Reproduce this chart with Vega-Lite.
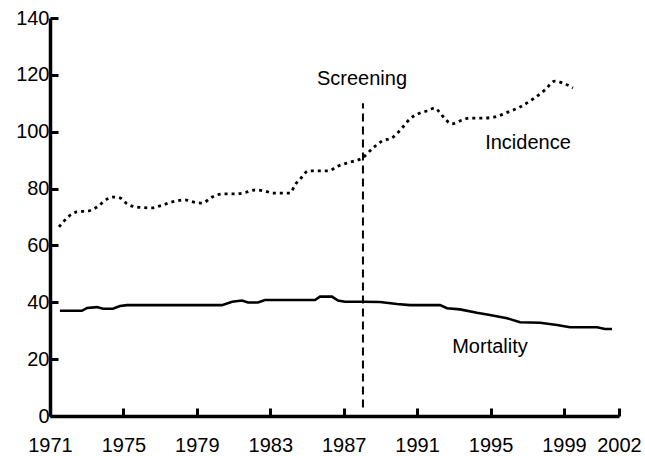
{
  "$schema": "https://vega.github.io/schema/vega-lite/v6.json",
  "width": 569,
  "height": 398,
  "autosize": {"type": "none"},
  "padding": {"left": 50, "top": 18, "right": 26, "bottom": 40},
  "background": "white",
  "config": {
    "view": {"stroke": null},
    "font": "Liberation Sans",
    "axis": {
      "grid": false,
      "title": null,
      "domainColor": "black",
      "domainWidth": 3.5,
      "tickColor": "black",
      "tickWidth": 3,
      "tickSize": -8,
      "labelColor": "black",
      "labelFontSize": 20,
      "labelFont": "Liberation Sans",
      "labelFlush": false,
      "labelOverlap": false
    },
    "axisX": {"labelPadding": 27},
    "axisY": {"labelPadding": 9}
  },
  "datasets": {
    "incidence": [
      {"year": 1971.49, "value": 66.5},
      {"year": 1972.47, "value": 71.8},
      {"year": 1973.07, "value": 72.1},
      {"year": 1973.56, "value": 73.5},
      {"year": 1974.11, "value": 76.3},
      {"year": 1974.43, "value": 77.0},
      {"year": 1974.81, "value": 76.7},
      {"year": 1975.2, "value": 74.6},
      {"year": 1975.74, "value": 73.5},
      {"year": 1976.56, "value": 73.2},
      {"year": 1976.99, "value": 73.9},
      {"year": 1977.65, "value": 75.3},
      {"year": 1978.35, "value": 76.0},
      {"year": 1978.79, "value": 75.3},
      {"year": 1979.28, "value": 74.9},
      {"year": 1979.83, "value": 77.0},
      {"year": 1980.37, "value": 78.1},
      {"year": 1980.97, "value": 78.1},
      {"year": 1981.51, "value": 78.4},
      {"year": 1982.17, "value": 79.5},
      {"year": 1982.71, "value": 79.1},
      {"year": 1983.15, "value": 78.4},
      {"year": 1984.08, "value": 78.4},
      {"year": 1984.35, "value": 81.3},
      {"year": 1984.73, "value": 84.1},
      {"year": 1985.06, "value": 86.2},
      {"year": 1986.15, "value": 86.2},
      {"year": 1986.69, "value": 87.9},
      {"year": 1987.34, "value": 89.3},
      {"year": 1988.0, "value": 90.7},
      {"year": 1988.6, "value": 94.3},
      {"year": 1989.09, "value": 96.7},
      {"year": 1989.69, "value": 98.1},
      {"year": 1990.18, "value": 101.3},
      {"year": 1990.61, "value": 104.5},
      {"year": 1991.16, "value": 106.6},
      {"year": 1991.54, "value": 107.3},
      {"year": 1991.97, "value": 108.3},
      {"year": 1992.25, "value": 106.6},
      {"year": 1992.52, "value": 104.5},
      {"year": 1992.9, "value": 102.8},
      {"year": 1993.45, "value": 104.1},
      {"year": 1993.88, "value": 104.8},
      {"year": 1994.59, "value": 104.8},
      {"year": 1995.24, "value": 105.2},
      {"year": 1995.95, "value": 106.9},
      {"year": 1996.61, "value": 108.7},
      {"year": 1997.31, "value": 111.5},
      {"year": 1997.97, "value": 114.7},
      {"year": 1998.51, "value": 117.8},
      {"year": 1998.95, "value": 117.1},
      {"year": 1999.49, "value": 115.4}
    ],
    "mortality": [
      {"year": 1971.54, "value": 37.0},
      {"year": 1972.74, "value": 37.0},
      {"year": 1973.02, "value": 38.0},
      {"year": 1973.56, "value": 38.3},
      {"year": 1973.89, "value": 37.7},
      {"year": 1974.43, "value": 37.7},
      {"year": 1974.81, "value": 38.7},
      {"year": 1975.2, "value": 39.0},
      {"year": 1980.37, "value": 39.0},
      {"year": 1980.92, "value": 40.2},
      {"year": 1981.46, "value": 40.6},
      {"year": 1981.79, "value": 39.9},
      {"year": 1982.33, "value": 39.9},
      {"year": 1982.71, "value": 40.8},
      {"year": 1985.44, "value": 40.8},
      {"year": 1985.71, "value": 42.0},
      {"year": 1986.36, "value": 42.0},
      {"year": 1986.69, "value": 40.6},
      {"year": 1987.07, "value": 40.2},
      {"year": 1988.05, "value": 40.2},
      {"year": 1988.98, "value": 40.1},
      {"year": 1989.9, "value": 39.4},
      {"year": 1990.61, "value": 39.0},
      {"year": 1992.25, "value": 39.0},
      {"year": 1992.63, "value": 37.9},
      {"year": 1993.34, "value": 37.5},
      {"year": 1994.26, "value": 36.3},
      {"year": 1994.97, "value": 35.5},
      {"year": 1995.9, "value": 34.4},
      {"year": 1996.61, "value": 33.0},
      {"year": 1997.7, "value": 32.8},
      {"year": 1998.62, "value": 32.0},
      {"year": 1999.33, "value": 31.2},
      {"year": 2000.8, "value": 31.2},
      {"year": 2001.24, "value": 30.6},
      {"year": 2001.62, "value": 30.6}
    ],
    "screening": [
      {"year": 1988.05, "value": 3, "value2": 110}
    ],
    "labels": [
      {"year": 1988.0, "value": 118.5, "label": "Screening"},
      {"year": 1997.04, "value": 96, "label": "Incidence"},
      {"year": 1994.97, "value": 24.3, "label": "Mortality"}
    ]
  },
  "encoding": {
    "x": {
      "field": "year",
      "type": "quantitative",
      "scale": {"domain": [1971, 2002], "nice": false, "zero": false},
      "axis": {
        "values": [1971, 1975, 1979, 1983, 1987, 1991, 1995, 1999, 2002],
        "format": "d"
      }
    },
    "y": {
      "field": "value",
      "type": "quantitative",
      "scale": {"domain": [0, 140], "nice": false},
      "axis": {
        "values": [0, 20, 40, 60, 80, 100, 120, 140]
      }
    }
  },
  "layer": [
    {
      "data": {"name": "incidence"},
      "mark": {"type": "line", "color": "black", "strokeWidth": 2.8, "strokeDash": [3, 4], "interpolate": "monotone"}
    },
    {
      "data": {"name": "mortality"},
      "mark": {"type": "line", "color": "black", "strokeWidth": 2.6}
    },
    {
      "data": {"name": "screening"},
      "mark": {"type": "rule", "color": "black", "strokeWidth": 2, "strokeDash": [8, 5]},
      "encoding": {"y2": {"field": "value2"}}
    },
    {
      "data": {"name": "labels"},
      "mark": {"type": "text", "color": "black", "fontSize": 20, "font": "Liberation Sans", "align": "center", "baseline": "middle"},
      "encoding": {"text": {"field": "label"}}
    }
  ]
}
